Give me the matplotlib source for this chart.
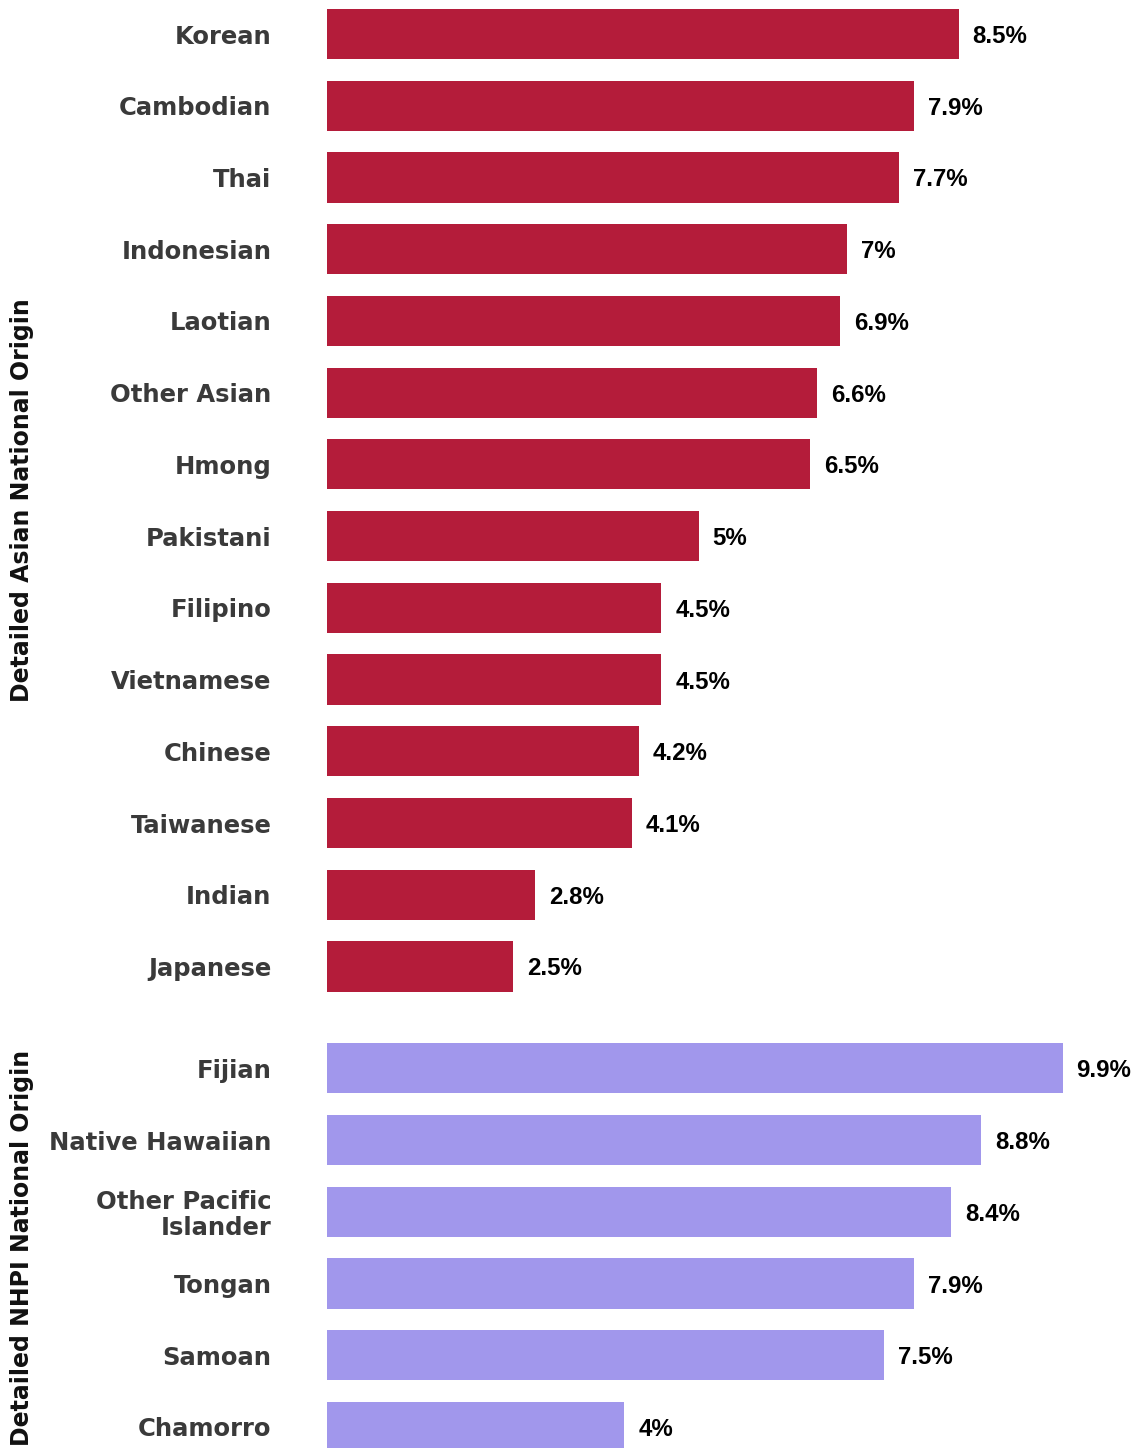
import matplotlib
matplotlib.use("Agg")
import matplotlib.pyplot as plt

# ------------------------------------------------------------
# DATA
# ------------------------------------------------------------

asian_labels = ["Korean", "Cambodian", "Thai", "Indonesian", "Laotian",
                "Other Asian", "Hmong", "Pakistani", "Filipino", "Vietnamese",
                "Chinese", "Taiwanese", "Indian", "Japanese"]
asian_values = [8.5, 7.9, 7.7, 7.0, 6.9, 6.6, 6.5, 5.0, 4.5, 4.5, 4.2, 4.1, 2.8, 2.5]
asian_text = ["8.5%", "7.9%", "7.7%", "7%", "6.9%", "6.6%", "6.5%", "5%",
              "4.5%", "4.5%", "4.2%", "4.1%", "2.8%", "2.5%"]

nhpi_labels = ["Fijian", "Native Hawaiian", "Other Pacific\nIslander",
               "Tongan", "Samoan", "Chamorro"]
nhpi_values = [9.9, 8.8, 8.4, 7.9, 7.5, 4.0]
nhpi_text = ["9.9%", "8.8%", "8.4%", "7.9%", "7.5%", "4%"]

group_titles = ["Detailed Asian National Origin", "Detailed NHPI National Origin"]

# ------------------------------------------------------------
# STYLE
# ------------------------------------------------------------

RED = "#B41C3A"
PURPLE = "#A197EC"
LABEL_COLOR = "#3a3a3a"
GROUP_GAP = 1.42
BAR_H = 0.7

# ------------------------------------------------------------
# PLOT
# ------------------------------------------------------------

fig = plt.figure(figsize=(11.41, 14.48), dpi=100)
ax = fig.add_axes([327 / 1141, 0, 1 - 327 / 1141, 1])

asian_y = list(range(len(asian_values)))
nhpi_y = [len(asian_values) - 1 + GROUP_GAP + i for i in range(len(nhpi_values))]

ax.barh(asian_y, asian_values, height=BAR_H, color=RED, edgecolor="none")
ax.barh(nhpi_y, nhpi_values, height=BAR_H, color=PURPLE, edgecolor="none")

ax.set_xlim(0, 814 / 74.3)
ax.set_ylim(nhpi_y[-1] + 21 / 71.7, -34 / 71.7)

for ys, vals, txts in [(asian_y, asian_values, asian_text), (nhpi_y, nhpi_values, nhpi_text)]:
    for y, v, t in zip(ys, vals, txts):
        ax.annotate(t, (v, y), xytext=(14, 0), textcoords="offset pixels",
                    ha="left", va="center_baseline", fontsize=17.3, fontweight="bold",
                    family="Liberation Sans", color="black")

ax.set_yticks(asian_y + nhpi_y)
ax.set_yticklabels(asian_labels + nhpi_labels, fontsize=17.5, fontweight="bold",
                   color=LABEL_COLOR, family="DejaVu Sans", linespacing=1.1)
ax.tick_params(axis="y", length=0, pad=40)
ax.set_xticks([])
for s in ax.spines.values():
    s.set_visible(False)

# group titles, centred on each block of bars
for title, ys in zip(group_titles, [asian_y, nhpi_y]):
    mid = (ys[0] + ys[-1]) / 2
    _, ypix = ax.transData.transform((0, mid))
    fig.text(22 / 1141, ypix / 1448, title, rotation=90, ha="center", va="center",
             fontsize=17, fontweight="bold", color="#111111", family="DejaVu Sans")

fig.savefig("out.png", dpi=100)
